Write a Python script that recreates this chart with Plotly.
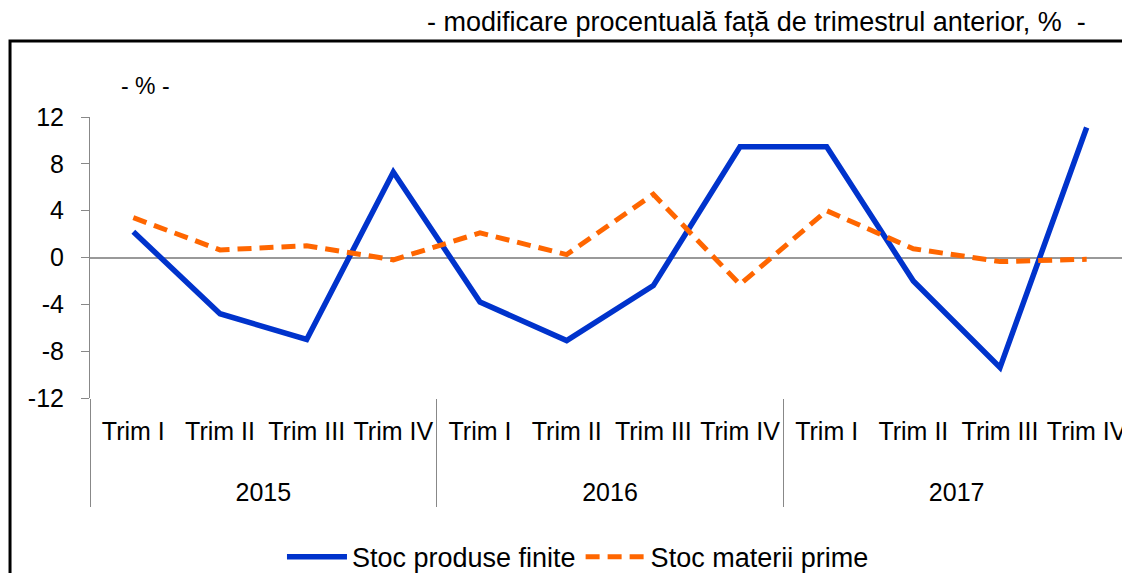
import plotly.graph_objects as go

year_fmt = "<br><br><span style='baseline-shift:18px'>%s</span>"
years = [year_fmt % "2015"] * 4 + [year_fmt % "2016"] * 4 + [year_fmt % "2017"] * 4
quarters = ["Trim I", "Trim II", "Trim III", "Trim IV"] * 3

finite = [2.2, -4.8, -7.0, 7.3, -3.8, -7.1, -2.4, 9.45, 9.45, -2.0, -9.4, 11.1]
prime = [3.4, 0.65, 1.0, -0.2, 2.1, 0.25, 5.4, -2.3, 4.0, 0.75, -0.35, -0.15]

y_ticks = [-12, -8, -4, 0, 4, 8, 12]
y_labels = ["-12", "-8", "-4", "0", "4", "8", "12"]

fnt = "Liberation Sans, Arial, sans-serif"

fig = go.Figure()
fig.add_trace(go.Scatter(x=[years, quarters], y=finite, mode="lines",
                         name="Stoc produse finite",
                         line=dict(color="#0033cc", width=5.5)))
fig.add_trace(go.Scatter(x=[years, quarters], y=prime, mode="lines",
                         name="Stoc materii prime",
                         line=dict(color="#ff6600", width=5, dash="14px,8px")))

# page has an 8px body margin, so the figure is sized 8px smaller
fig.update_layout(
    width=1122, height=565,
    margin=dict(l=82, r=0, t=109, b=175),
    paper_bgcolor="white", plot_bgcolor="white",
    font=dict(family=fnt, size=25, color="black"),
    showlegend=True,
    legend=dict(orientation="h", xref="container", yref="container",
                x=0.508, xanchor="center", y=0.028, yanchor="middle",
                font=dict(size=27), itemwidth=60),
)

fig.update_xaxes(type="multicategory", range=[-0.5, 11.5], showgrid=False,
                 showline=False, zeroline=False, automargin=False, tickangle=0,
                 ticklabelstandoff=16,
                 showdividers=True, dividercolor="#888888", dividerwidth=1,
                 tickfont=dict(size=25))
fig.update_yaxes(range=[-12, 12], tickvals=y_ticks, ticktext=y_labels,
                 showgrid=False, automargin=False, ticklabelstandoff=12,
                 showline=True, linecolor="#888888", linewidth=1,
                 ticks="outside", ticklen=8, tickcolor="#888888",
                 zeroline=True, zerolinecolor="#999999", zerolinewidth=1.5,
                 tickfont=dict(size=25))

# black frame
fig.add_shape(type="rect", xref="paper", yref="paper",
              x0=-0.0769, x1=1.2, y0=-0.8, y1=1.2705,
              line=dict(color="black", width=3), layer="above")

fig.add_annotation(text="- modificare procentuală față de trimestrul anterior, %  -",
                   xref="paper", yref="paper", x=0.96, y=1.338,
                   xanchor="right", yanchor="middle", showarrow=False,
                   font=dict(size=27))
fig.add_annotation(text="- % -", xref="paper", yref="paper", x=0.053, y=1.11,
                   xanchor="center", yanchor="middle", showarrow=False,
                   font=dict(size=23))

fig.write_html("out.html")
